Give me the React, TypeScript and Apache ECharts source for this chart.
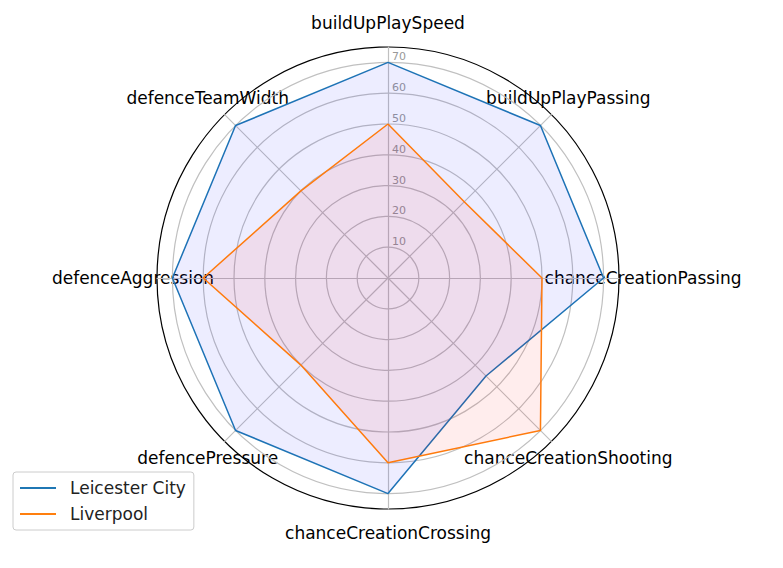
import React, { useEffect, useRef } from "react";
import * as echarts from "echarts";

// Indicators in ECharts order (top, then counter-clockwise)
const categories = [
  "buildUpPlaySpeed",
  "defenceTeamWidth",
  "defenceAggression",
  "defencePressure",
  "chanceCreationCrossing",
  "chanceCreationShooting",
  "chanceCreationPassing",
  "buildUpPlayPassing",
];
const leicester = [70, 70, 70, 70, 70, 45, 70, 70];
const liverpool = [50, 40, 60, 40, 60, 70, 50, 35];
const seriesNames = ["Leicester City", "Liverpool"];
const gridMax = 70;
const outerMax = 75;

const CX = 388;
const CY = 278;
const R = 231;
const FONT = "DejaVu Sans";

export default function App() {
  const ref = useRef<HTMLDivElement>(null);
  useEffect(() => {
    document.body.style.margin = "0";
    const chart = echarts.init(ref.current!, null, { renderer: "svg" });
    const n = categories.length;
    const nameTexts = categories.map((c, i) => {
      const a = Math.PI / 2 + (i * 2 * Math.PI) / n;
      const rr = 255;
      return {
        type: "text",
        x: CX + rr * Math.cos(a),
        y: CY - rr * Math.sin(a),
        style: {
          text: c,
          fontFamily: FONT,
          fontSize: 17,
          fill: "#000",
          align: "center",
          verticalAlign: "middle",
        },
      };
    });
    const option: any = {
      animation: false,
      backgroundColor: "#fff",
      legend: {
        orient: "vertical",
        left: 13,
        top: 472,
        padding: [6, 8, 6, 7],
        itemGap: 6,
        itemWidth: 36,
        itemHeight: 2,
        borderColor: "#cccccc",
        borderWidth: 1,
        borderRadius: 3,
        data: seriesNames.map((s) => ({ name: s, icon: "rect" })),
        textStyle: {
          fontFamily: FONT,
          fontSize: 17,
          color: "#222",
          lineHeight: 20,
          padding: [0, 0, 0, 9],
        },
      },
      radar: [
        {
          center: [CX, CY],
          radius: (R * gridMax) / outerMax,
          shape: "circle",
          startAngle: 90,
          splitNumber: 7,
          indicator: categories.map((c, i) => ({
            name: c,
            min: 0,
            max: gridMax,
            ...(i === 0
              ? {
                  axisLabel: {
                    show: true,
                    color: "#999",
                    fontSize: 11,
                    fontFamily: FONT,
                    margin: -4,
                    align: "left",
                    verticalAlign: "bottom",
                    formatter: (v: number) => (v === 0 ? "" : String(v)),
                  },
                }
              : {}),
          })),
          axisName: { show: false },
          axisLine: { show: false },
          axisTick: { show: false },
          axisLabel: { show: false },
          splitLine: { lineStyle: { color: "#c0c0c0", width: 1.2 } },
          splitArea: { show: false },
        },
        {
          center: [CX, CY],
          radius: R,
          shape: "circle",
          startAngle: 90,
          splitNumber: 1,
          indicator: categories.map((c) => ({ name: c, min: 0, max: outerMax })),
          axisName: { show: false },
          axisLine: { lineStyle: { color: "#c0c0c0", width: 1.2 } },
          axisTick: { show: false },
          axisLabel: { show: false },
          splitLine: { lineStyle: { color: "#000", width: 1.2 } },
          splitArea: { show: false },
        },
      ],
      series: [
        {
          type: "radar",
          radarIndex: 1,
          symbol: "none",
          data: [
            {
              name: seriesNames[0],
              value: leicester,
              itemStyle: { color: "#1f77b4" },
              lineStyle: { color: "#1f77b4", width: 1.5 },
              areaStyle: { color: "rgba(0,0,255,0.1)" },
            },
            {
              name: seriesNames[1],
              value: liverpool,
              itemStyle: { color: "#ff7f0e" },
              lineStyle: { color: "#ff7f0e", width: 1.5 },
              areaStyle: { color: "rgba(255,0,0,0.1)" },
            },
          ],
        },
      ],
      graphic: nameTexts,
    };
    chart.setOption(option);
    return () => chart.dispose();
  }, []);
  return <div ref={ref} style={{ width: 783, height: 568 }} />;
}
